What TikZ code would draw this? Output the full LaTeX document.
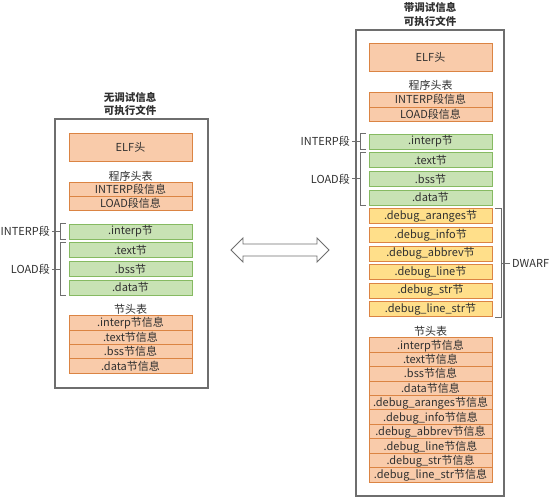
\documentclass[tikz,border=0pt]{standalone}
\usepackage{fontspec}
\setmainfont{Noto Sans CJK SC}
\usetikzlibrary{shapes}
\definecolor{fillorange}{HTML}{F9CBAA}
\definecolor{edgeorange}{HTML}{DB8443}
\definecolor{fillgreen}{HTML}{C8E2B4}
\definecolor{edgegreen}{HTML}{86BA62}
\definecolor{fillyellow}{HTML}{FFDF8A}
\definecolor{framegray}{HTML}{6E6E6E}
\definecolor{inkgray}{HTML}{303030}
\newcommand{\rowstrut}{\rule[-2.7pt]{0pt}{13.5pt}}

\begin{document}
\begin{tikzpicture}[x=1pt,y=-1pt,text=inkgray]
\tikzstyle{every node}=[font=\fontsize{11}{13.5}\selectfont]
\tikzstyle{frame}=[draw=framegray,line width=1.2pt]
\tikzstyle{title}=[align=center,font=\fontsize{10.5}{13.5}\selectfont\bfseries]
\tikzstyle{obox}=[draw=edgeorange,fill=fillorange,line width=0.9pt,minimum width=123pt,inner sep=0pt]
\tikzstyle{orow}=[rectangle split,rectangle split parts=#1,obox]
\tikzstyle{gbox}=[draw=edgegreen,fill=fillgreen,line width=0.9pt,minimum width=123pt,minimum height=15pt,inner sep=0pt]
\tikzstyle{ybox}=[draw=edgeorange,fill=fillyellow,line width=0.9pt,minimum width=123pt,minimum height=15pt,inner sep=0pt]
\tikzstyle{brk}=[draw=framegray,line width=0.8pt]
\tikzstyle{lbl}=[inner sep=2pt]
\useasboundingbox (0,0) rectangle (552,500);

% without debug info
\node[title](titleL) at (130,104) {无调试信息\\可执行文件};
\draw[frame] (55,119) rectangle (208,388);
\node[obox,minimum height=28pt](elfL) at (130.5,147) {ELF头};
\node(phtL) at (130.5,176) {程序头表};
\node[orow=2](phL) at (130.5,196.5) {\rowstrut INTERP段信息 \nodepart{two}\rowstrut LOAD段信息};
\node[gbox](interpL) at (130.5,231.5) {.interp节};
\node[gbox](textL) at (130.5,250.2) {.text节};
\node[gbox](bssL) at (130.5,268.9) {.bss节};
\node[gbox](dataL) at (130.5,287.6) {.data节};
\node(shtL) at (130.5,309) {节头表};
\node[orow=4](shL) at (130.5,344.5) {\rowstrut .interp节信息 \nodepart{two}\rowstrut .text节信息
  \nodepart{three}\rowstrut .bss节信息 \nodepart{four}\rowstrut .data节信息};

\node[lbl,anchor=east](interpSegL) at (52,231.5) {INTERP段};
\node[lbl,anchor=east](loadSegL) at (52,268.9) {LOAD段};
\draw[brk] ([xshift=-3pt]interpL.north west) -- ++(-5,0) |- ([xshift=-3pt]interpL.south west);
\draw[brk] ([xshift=-3pt]textL.north west) -- ++(-5,0) |- ([xshift=-3pt]dataL.south west);
\draw[brk] (interpSegL.east) -- ([xshift=-8pt]interpL.west);
\draw[brk] (loadSegL.east) -- ([xshift=-8pt]bssL.west);

% double arrow
\draw[draw=framegray,line width=0.9pt,line join=miter] (231,250) -- (243,238) -- (243,244) -- (317,244) -- (317,238)
  -- (329,250) -- (317,262) -- (317,256) -- (243,256) -- (243,262) -- cycle;

% with debug info
\node[title](titleR) at (430,14.5) {带调试信息\\可执行文件};
\draw[frame] (356,30) rectangle (504,496);
\node[obox,minimum height=28pt](elfR) at (430.5,57) {ELF头};
\node(phtR) at (430.5,85) {程序头表};
\node[orow=2](phR) at (430.5,107) {\rowstrut INTERP段信息 \nodepart{two}\rowstrut LOAD段信息};
\node[gbox](interpR) at (430.5,141.5) {.interp节};
\node[gbox](textR) at (430.5,160.2) {.text节};
\node[gbox](bssR) at (430.5,178.9) {.bss节};
\node[gbox](dataR) at (430.5,197.6) {.data节};
\node[ybox](arangesR) at (430.5,216.3) {.debug\_aranges节};
\node[ybox](infoR) at (430.5,234.9) {.debug\_info节};
\node[ybox](abbrevR) at (430.5,253.5) {.debug\_abbrev节};
\node[ybox](lineR) at (430.5,272.1) {.debug\_line节};
\node[ybox](strR) at (430.5,290.7) {.debug\_str节};
\node[ybox](linestrR) at (430.5,309.3) {.debug\_line\_str节};
\node(shtR) at (430.5,331) {节头表};
\node[orow=10](shR) at (430.5,410) {\rowstrut .interp节信息 \nodepart{two}\rowstrut .text节信息
  \nodepart{three}\rowstrut .bss节信息 \nodepart{four}\rowstrut .data节信息
  \nodepart{five}\rowstrut .debug\_aranges节信息 \nodepart{six}\rowstrut .debug\_info节信息
  \nodepart{seven}\rowstrut .debug\_abbrev节信息 \nodepart{eight}\rowstrut .debug\_line节信息
  \nodepart{nine}\rowstrut .debug\_str节信息 \nodepart{ten}\rowstrut .debug\_line\_str节信息};

\node[lbl,anchor=east](interpSegR) at (352,141.5) {INTERP段};
\node[lbl,anchor=east](loadSegR) at (352,178.9) {LOAD段};
\node[lbl,anchor=west](dwarfR) at (510,263) {DWARF};
\draw[brk] ([xshift=-3pt]interpR.north west) -- ++(-5,0) |- ([xshift=-3pt]interpR.south west);
\draw[brk] ([xshift=-3pt]textR.north west) -- ++(-5,0) |- ([xshift=-3pt]dataR.south west);
\draw[brk] (interpSegR.east) -- ([xshift=-8pt]interpR.west);
\draw[brk] (loadSegR.east) -- ([xshift=-8pt]bssR.west);
\draw[brk] ([xshift=3pt]arangesR.north east) -- ++(6,0) |- ([xshift=3pt]linestrR.south east);
\draw[brk] (dwarfR.west) -- ++(-9,0);
\end{tikzpicture}
\end{document}
